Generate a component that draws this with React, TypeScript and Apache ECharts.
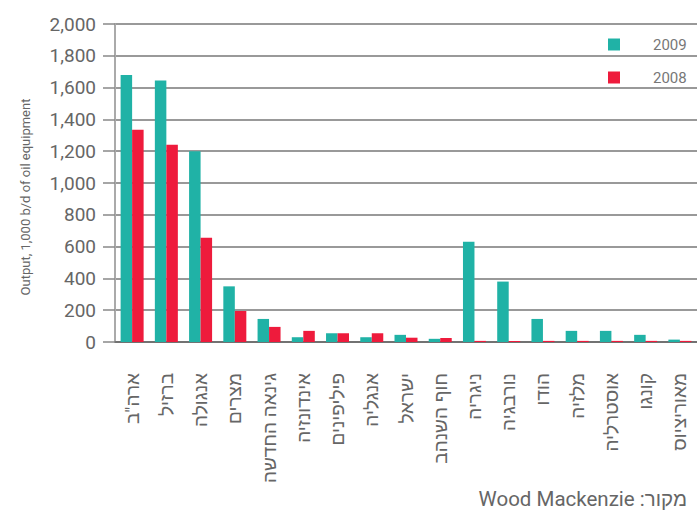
import React, { useEffect, useRef } from "react";
import * as echarts from "echarts";

const categories = ['ארה"ב', "ברזיל", "אנגולה", "מצרים", "גינאה החדשה", "אינדונזיה", "פיליפינים", "אנגליה", "ישראל", "חוף השנהב", "ניגריה", "נורבגיה", "הודו", "מלזיה", "אוסטרליה", "קונגו", "מאוריציוס"];
const values2009 = [1680, 1645, 1200, 350, 145, 30, 55, 30, 45, 20, 630, 380, 145, 70, 70, 45, 15];
const values2008 = [1335, 1240, 655, 195, 95, 70, 55, 55, 27, 25, 7, 7, 7, 7, 7, 7, 7];
const yTicks = [0, 200, 400, 600, 800, 1000, 1200, 1400, 1600, 1800, 2000];
const yAxisName = "Output, 1,000 b/d of oil equipment";
const sourceText = "\u202Bמקור: Wood Mackenzie\u202C";

const FONT = "Roboto, 'Liberation Sans', 'DejaVu Sans', sans-serif";

export default function App() {
  const ref = useRef<HTMLDivElement>(null);
  useEffect(() => {
    if (!ref.current) return;
    const chart = echarts.init(ref.current, null, { renderer: "svg" });
    chart.setOption({
      animation: false,
      backgroundColor: "#fff",
      grid: { left: 115, right: -5, top: 24, bottom: 168, containLabel: false },
      legend: {
        data: ["2009", "2008"],
        orient: "vertical",
        left: 608,
        top: 37,
        padding: 0,
        itemWidth: 12,
        itemHeight: 12,
        itemGap: 18,
        icon: "rect",
        textStyle: { color: "#777", fontSize: 15, fontFamily: FONT, padding: [0, 0, 0, 28], lineHeight: 14 },
      },
      xAxis: {
        type: "category",
        data: categories,
        axisLine: { lineStyle: { color: "#666", width: 1.5 } },
        axisTick: { alignWithLabel: true, length: 15, lineStyle: { color: "#999", width: 2 } },
        axisLabel: { rotate: 90, margin: 31, interval: 0, color: "#666", fontSize: 19, fontFamily: FONT },
      },
      yAxis: {
        type: "value",
        min: 0,
        max: 2000,
        interval: 200,
        axisLine: { show: true, lineStyle: { color: "#aaa", width: 2 } },
        axisTick: { show: true, length: 12, lineStyle: { color: "#888", width: 1.5 } },
        axisLabel: {
          margin: 19,
          color: "#666",
          fontSize: 19,
          fontFamily: FONT,
          formatter: (v: number) => (yTicks.includes(v) ? v.toLocaleString("en-US") : ""),
        },
        splitLine: { show: true, lineStyle: { color: "#777", width: 1.5 } },
      },
      series: [
        {
          name: "2009",
          type: "bar",
          data: values2009,
          barWidth: 11.5,
          barGap: "0%",
          itemStyle: { color: "#20B2A6" },
        },
        {
          name: "2008",
          type: "bar",
          data: values2008,
          barWidth: 11.5,
          barGap: "0%",
          itemStyle: { color: "#EE1B3C" },
        },
      ],
      graphic: [
        {
          type: "text",
          x: 25,
          y: 197,
          rotation: Math.PI / 2,
          style: {
            text: yAxisName,
            fill: "#666",
            fontSize: 13,
            fontFamily: FONT,
            align: "center",
            verticalAlign: "middle",
          },
        },
        {
          type: "text",
          x: 687,
          y: 488,
          style: {
            text: sourceText,
            fill: "#666",
            fontSize: 20.5,
            fontFamily: FONT,
            align: "right",
            verticalAlign: "top",
          },
        },
      ],
    });
    return () => chart.dispose();
  }, []);
  return <div ref={ref} style={{ width: 697, height: 510, position: "absolute", left: 0, top: 0 }} />;
}
